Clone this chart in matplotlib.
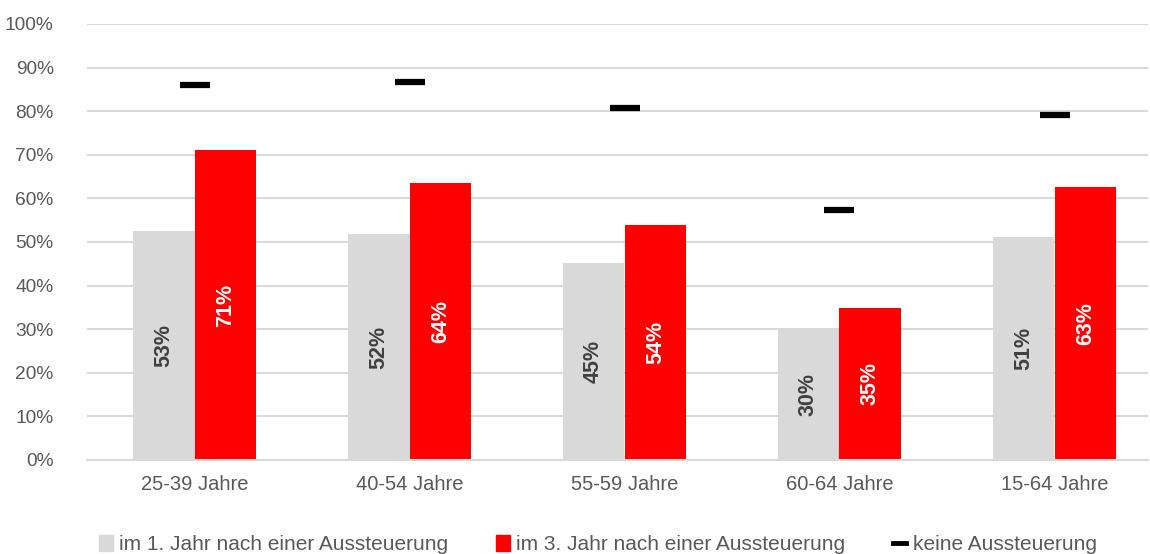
import matplotlib
matplotlib.use('Agg')
import matplotlib.pyplot as plt
import numpy as np
from matplotlib.patches import Patch
from matplotlib.lines import Line2D

categories = ['25-39 Jahre', '40-54 Jahre', '55-59 Jahre', '60-64 Jahre', '15-64 Jahre']
year1 = [52.5, 51.8, 45.2, 30.0, 51.1]
year3 = [71.1, 63.5, 53.9, 34.9, 62.6]
none = [86.0, 86.7, 80.7, 57.3, 79.1]
label1 = ['53%', '52%', '45%', '30%', '51%']
label3 = ['71%', '64%', '54%', '35%', '63%']
legend_labels = ['im 1. Jahr nach einer Aussteuerung',
                 'im 3. Jahr nach einer Aussteuerung',
                 'keine Aussteuerung']

GREY = '#d9d9d9'
RED = '#ff0000'
TXT = '#595959'

plt.rcParams['font.family'] = ['Liberation Sans', 'DejaVu Sans']

fig = plt.figure(figsize=(11.5, 5.54), dpi=100)
ax = fig.add_axes([87 / 1150, 94 / 554, 1061 / 1150, 436 / 554])

x = np.arange(len(categories))
w = 0.288
ax.bar(x - w / 2, year1, w, color=GREY, zorder=2)
ax.bar(x + w / 2, year3, w, color=RED, zorder=2)
ax.plot(x, none, ls='none', marker='_', markersize=22, markeredgewidth=4.5,
        color='black', zorder=3)

for i in range(len(x)):
    ax.text(x[i] - w / 2, year1[i] / 2, label1[i], rotation=90, ha='center',
            va='center', color='#404040', fontsize=15.5, fontweight='bold', zorder=4)
    ax.text(x[i] + w / 2, year3[i] / 2, label3[i], rotation=90, ha='center',
            va='center', color='white', fontsize=15.5, fontweight='bold', zorder=4)

ax.set_xlim(-0.5, -0.5 + 1061 / 215)
ax.set_ylim(0, 100)
ax.set_yticks(range(0, 101, 10))
ax.set_yticklabels([f'{v}%' for v in range(0, 101, 10)])
ax.set_xticks(x)
ax.set_xticklabels(categories)
ax.tick_params(length=0, labelsize=14.5, labelcolor=TXT)
ax.tick_params(axis='y', labelsize=13.8, pad=24)
ax.tick_params(axis='x', pad=11)
ax.yaxis.grid(True, color=GREY, lw=1.5, zorder=0)
for s in ['top', 'right', 'left']:
    ax.spines[s].set_visible(False)
ax.spines['bottom'].set_color(GREY)
ax.spines['bottom'].set_linewidth(1.5)

handles = [Patch(color=GREY), Patch(color=RED),
           Line2D([], [], color='black', lw=3.5)]
fig.legend(handles, legend_labels, loc='center', bbox_to_anchor=(0.52, 0.017),
           ncol=3, frameon=False, fontsize=15, labelcolor=TXT,
           handlelength=0.65, handleheight=0.8, handletextpad=0.3,
           columnspacing=2.3)

fig.savefig('out.png', dpi=100)
